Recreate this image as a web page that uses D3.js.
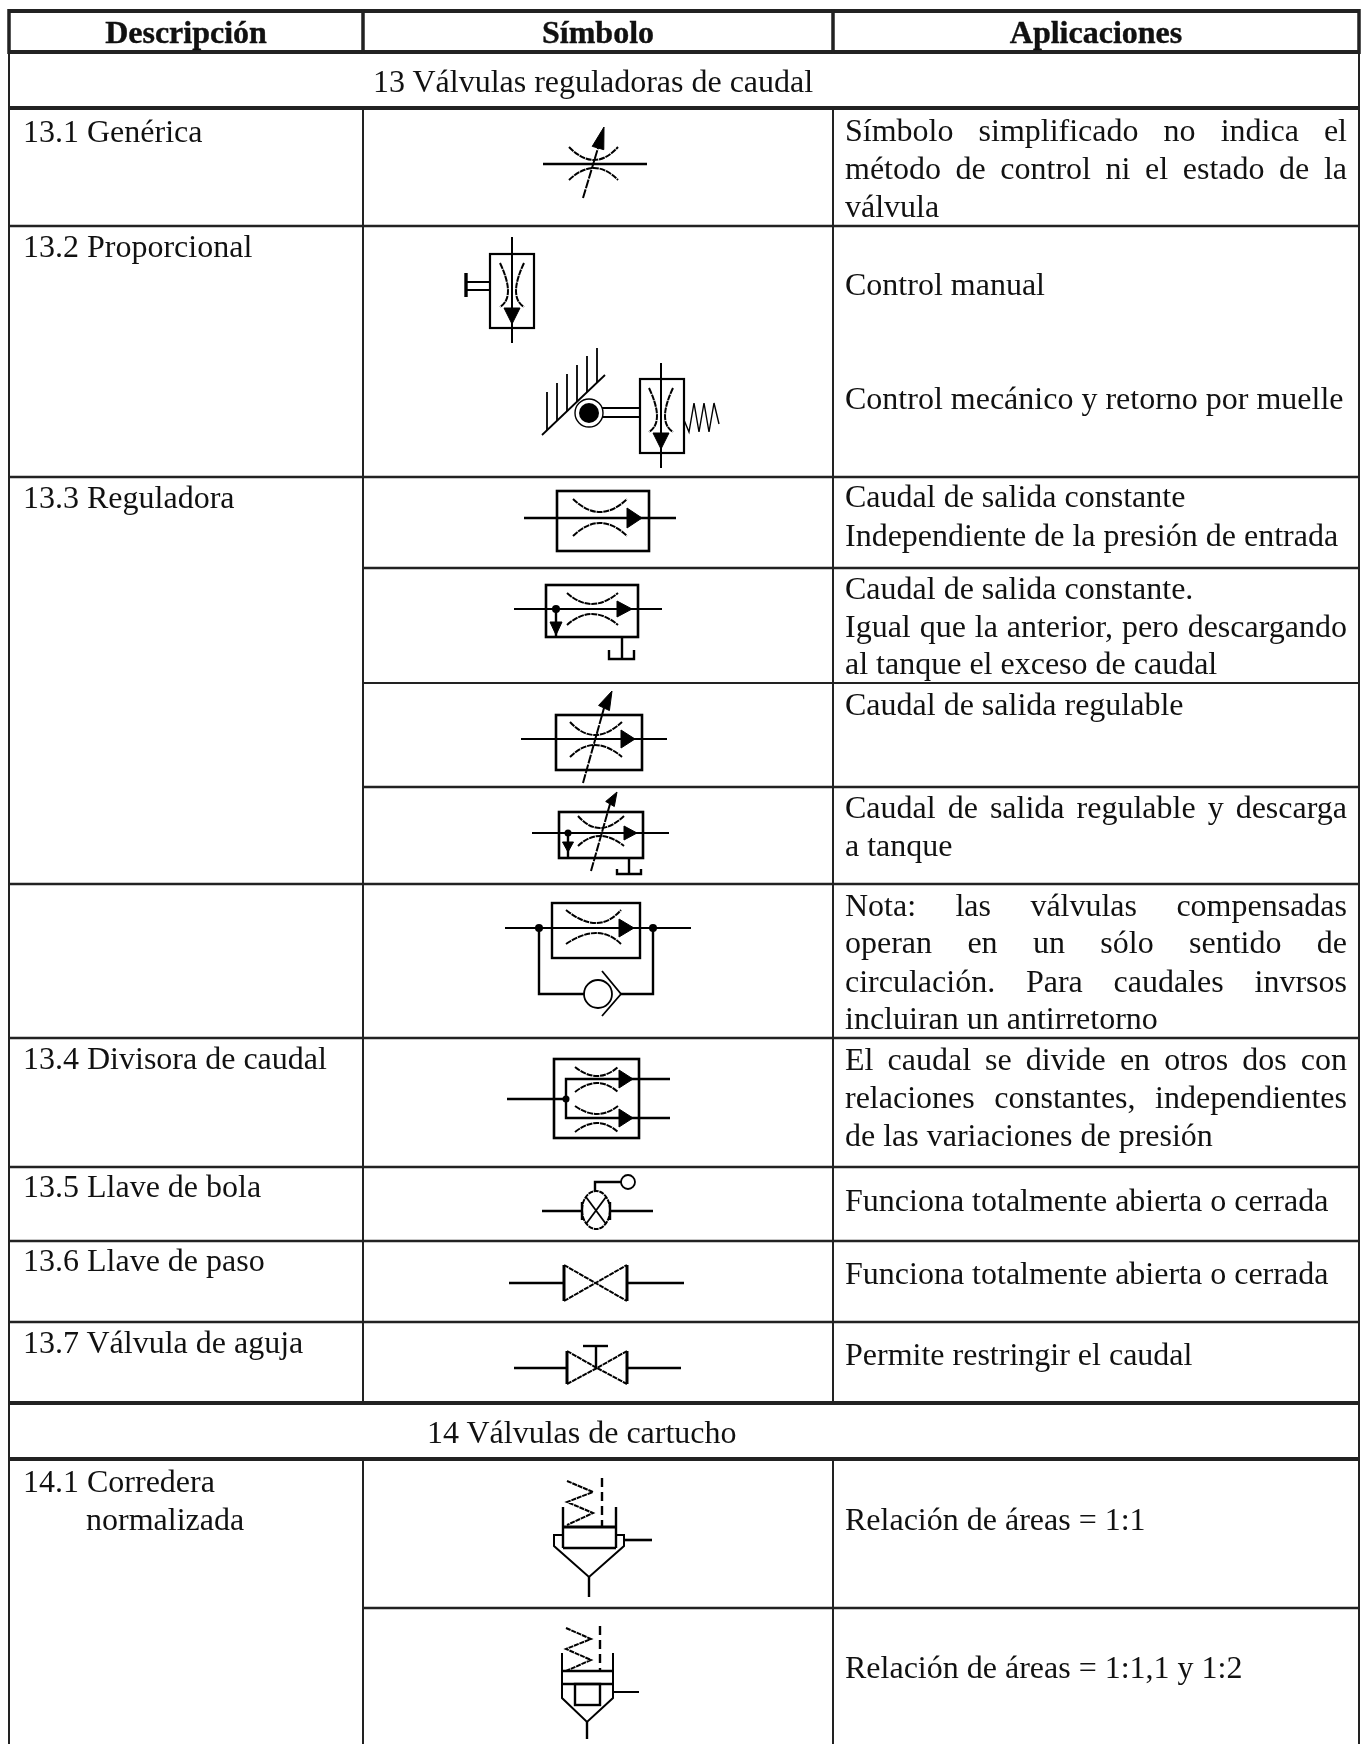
<!DOCTYPE html>
<html>
<head>
<meta charset="utf-8">
<script src="https://cdn.jsdelivr.net/npm/d3@7"></script>
<style>
  html, body { margin: 0; background: #fff; }
  svg { display: block; filter: blur(0.5px); }
  text { font-family: "Liberation Serif", serif; fill: #111; }
</style>
</head>
<body>
<div id="chart"></div>
<script>
// Table content
const headerLabels = ["Descripción", "Símbolo", "Aplicaciones"];
const sectionLabels = ["13 Válvulas reguladoras de caudal", "14 Válvulas de cartucho"];
const descLabels = ["13.1 Genérica", "13.2 Proporcional", "13.3 Reguladora", "13.4 Divisora de caudal",
  "13.5 Llave de bola", "13.6 Llave de paso", "13.7 Válvula de aguja", "14.1 Corredera"];
const descExtra = "normalizada";
const appLines = [
  "Símbolo simplificado no indica el", "método de control ni el estado de la", "válvula",
  "Control manual", "Control mecánico y retorno por muelle",
  "Caudal de salida constante", "Independiente de la presión de entrada",
  "Caudal de salida constante.", "Igual que la anterior, pero descargando", "al tanque el exceso de caudal",
  "Caudal de salida regulable",
  "Caudal de salida regulable y descarga", "a tanque",
  "Nota: las válvulas compensadas", "operan en un sólo sentido de", "circulación. Para caudales invrsos", "incluiran un antirretorno",
  "El caudal se divide en otros dos con", "relaciones constantes, independientes", "de las variaciones de presión",
  "Funciona totalmente abierta o cerrada", "Funciona totalmente abierta o cerrada",
  "Permite restringir el caudal",
  "Relación de áreas = 1:1", "Relación de áreas = 1:1,1 y 1:2"
];
const justifiedLines = new Set([0, 1, 8, 11, 13, 14, 15, 17, 18]);

// Layout read from the page
const width = 1370, height = 1744;
const fontSize = 32;
const colX = [9, 363, 833, 1359];
const descX = 23, appX = 845, appRight = 1347;
const headerBase = 43;
const sectionBase = [92, 1443];
const descBase = [142, 257, 508, 1069, 1197, 1271, 1353, 1492];
const appBase = [141, 179, 217, 295, 409, 507, 546, 599, 637, 674, 715, 818, 856,
  916, 953, 992, 1029, 1070, 1108, 1146, 1211, 1284, 1365, 1530, 1678];
// [y, x start, stroke width]
const rules = [
  [11, 9, 4], [52, 9, 4], [108, 9, 4], [226, 9, 2.5], [477, 9, 2.5], [568, 363, 2.5], [683, 363, 2],
  [787, 363, 2.5], [884, 9, 2.5], [1038, 9, 2.5], [1167, 9, 2.5], [1241, 9, 2.5], [1322, 9, 2.5],
  [1403, 9, 4], [1459, 9, 4], [1608, 363, 2.5]
];
// column lines stop at the section rows
const colSpans = [[108, 1403], [1459, 1744]];

const svg = d3.select("#chart").append("svg")
  .attr("width", width)
  .attr("height", height);

svg.append("rect").attr("width", width).attr("height", height).attr("fill", "#fff");

const grid = svg.append("g").attr("stroke", "#222");

rules.forEach(r => {
  grid.append("line")
    .attr("x1", r[1]).attr("x2", colX[3])
    .attr("y1", r[0]).attr("y2", r[0])
    .attr("stroke-width", r[2]);
});

[colX[0], colX[3]].forEach(x => {
  grid.append("line").attr("x1", x).attr("x2", x).attr("y1", 9).attr("y2", height).attr("stroke-width", 2);
});
colX.forEach(x => {
  grid.append("line").attr("x1", x).attr("x2", x).attr("y1", 9).attr("y2", 54).attr("stroke-width", 3.5);
});
colSpans.forEach(s => {
  [colX[1], colX[2]].forEach(x => {
    grid.append("line").attr("x1", x).attr("x2", x).attr("y1", s[0]).attr("y2", s[1]).attr("stroke-width", 2);
  });
});

// Text
const headerCenters = [186, 598, 1096];
svg.selectAll(".head").data(headerLabels).enter().append("text")
  .attr("class", "head")
  .attr("x", (d, i) => headerCenters[i])
  .attr("y", headerBase)
  .attr("text-anchor", "middle")
  .style("font-size", fontSize + "px")
  .style("font-weight", "bold")
  .style("stroke", "#111")
  .style("stroke-width", 0.4)
  .text(d => d);

const sectionX = [373, 427];
svg.selectAll(".section").data(sectionLabels).enter().append("text")
  .attr("class", "section")
  .attr("x", (d, i) => sectionX[i])
  .attr("y", (d, i) => sectionBase[i])
  .style("font-size", fontSize + "px")
  .text(d => d);

svg.selectAll(".desc").data(descLabels).enter().append("text")
  .attr("class", "desc")
  .attr("x", descX)
  .attr("y", (d, i) => descBase[i])
  .style("font-size", fontSize + "px")
  .text(d => d);

svg.append("text")
  .attr("x", 86)
  .attr("y", 1530)
  .style("font-size", fontSize + "px")
  .text(descExtra);

svg.selectAll(".app").data(appLines).enter().append("text")
  .attr("class", "app")
  .attr("x", appX)
  .attr("y", (d, i) => appBase[i])
  .style("font-size", fontSize + "px")
  .text(d => d)
  .each(function(d, i) {
    if (!justifiedLines.has(i)) return;
    // stretch the gaps so the line reaches the right margin
    const gaps = d.split(" ").length - 1;
    const extra = (appRight - appX - this.getComputedTextLength()) / gaps;
    d3.select(this).attr("word-spacing", extra);
  });

// Symbols, drawn from small hydraulic parts
const sym = svg.append("g")
  .attr("fill", "none")
  .attr("stroke", "#000")
  .attr("stroke-width", 2);

function line(pts, w) {
  return sym.append("path")
    .attr("d", d3.line()(pts))
    .attr("stroke-width", w || 2);
}

function box(x0, y0, x1, y1, w) {
  return sym.append("rect")
    .attr("x", x0).attr("y", y0)
    .attr("width", x1 - x0).attr("height", y1 - y0)
    .attr("stroke-width", w || 2.4);
}

// curved throttle line, passes through the middle point
function curve(x0, y0, mx, my, x1, y1) {
  const p = d3.path();
  p.moveTo(x0, y0);
  p.quadraticCurveTo(2 * mx - (x0 + x1) / 2, 2 * my - (y0 + y1) / 2, x1, y1);
  return sym.append("path").attr("d", p.toString()).attr("stroke-dasharray", "6 0.8");
}

function solid(pts) {
  return sym.append("path")
    .attr("d", d3.line()(pts) + "Z")
    .attr("fill", "#000")
    .attr("stroke", "#000")
    .attr("stroke-width", 1);
}

function dot(x, y, r) {
  return sym.append("circle").attr("cx", x).attr("cy", y).attr("r", r).attr("fill", "#000").attr("stroke", "none");
}

function ring(x, y, r, w) {
  return sym.append("circle").attr("cx", x).attr("cy", y).attr("r", r).attr("fill", "#fff").attr("stroke-width", w || 2);
}

function arrowRight(baseX, tipX, y, half) {
  solid([[baseX, y - half], [tipX, y], [baseX, y + half]]);
}

function arrowDown(x, baseY, tipY, half) {
  solid([[x - half, baseY], [x + half, baseY], [x, tipY]]);
}

function tank(x, y0, y1, x0, x1, yTop) {
  line([[x, y0], [x, y1]], 2.4);
  line([[x0, yTop], [x0, y1], [x1, y1], [x1, yTop]], 2.4);
}

function throttle(x0, x1, mx, topY, topMid, botY, botMid) {
  curve(x0, topY, mx, topMid, x1, topY);
  curve(x0, botY, mx, botMid, x1, botY);
}

// needle arrow for the adjustable valves
function needle(x0, y0, x1, y1, tipX, tipY, half) {
  line([[x0, y0], [x1, y1]], 2).attr("stroke-dasharray", "9 1.2");
  const dx = tipX - x1, dy = tipY - y1, len = Math.hypot(dx, dy);
  const nx = -dy / len * half, ny = dx / len * half;
  solid([[x1 + nx, y1 + ny], [tipX, tipY], [x1 - nx, y1 - ny]]);
}

function bowtie(xl, xr, cx, cy, y0, y1) {
  line([[xl, y0], [xl, y1]], 3);
  line([[xr, y0], [xr, y1]], 3);
  line([[xl, y0], [cx, cy], [xr, y1]], 2).attr("stroke-dasharray", "5 0.8");
  line([[xl, y1], [cx, cy], [xr, y0]], 2).attr("stroke-dasharray", "5 0.8");
}

// 13.1 generic
line([[543, 164], [647, 164]], 2.6);
throttle(569, 618, 594, 147, 160, 180, 168);
needle(583, 198, 598, 148, 604, 127, 6);

// 13.2 manual
box(490, 254, 534, 328, 2.2);
line([[512, 237], [512, 343]]);
curve(500, 263, 508, 291, 500, 307);
curve(524, 263, 516, 291, 524, 307);
arrowDown(512, 308, 324, 8);
line([[465, 282], [490, 282]]);
line([[465, 290], [490, 290]]);
line([[466, 273], [466, 297]], 3.4);

// 13.2 cam + spring
box(640, 379, 684, 453, 2.2);
line([[661, 363], [661, 468]]);
curve(649, 388, 657, 416, 649, 432);
curve(673, 388, 665, 416, 673, 432);
arrowDown(661, 433, 449, 8);
line([[602, 408], [640, 408]]);
line([[602, 417], [640, 417]]);
line([[542, 435], [605, 375]], 1.8);
[[547, 392, 430], [557, 383, 421], [567, 374, 411], [577, 365, 402], [587, 356, 392], [597, 348, 383]]
  .forEach(h => line([[h[0], h[1]], [h[0], h[2]]], 1.8));
ring(589, 413, 14, 1.4);
dot(589, 413, 10);
line([[684, 420], [689, 432], [694, 403], [699, 432], [704, 403], [709, 432], [714, 403], [719, 424]], 1.4);

// 13.3 constant flow
box(557, 491, 649, 551, 2.6);
line([[524, 518], [676, 518]], 2.4);
throttle(573, 627, 600, 499, 512, 536, 523);
arrowRight(627, 642, 518, 10);

// 13.3 with tank relief
box(546, 585, 638, 637, 2.6);
line([[514, 609], [662, 609]], 2.2);
throttle(567, 618, 592, 593, 604, 625, 614);
arrowRight(617, 632, 609, 8);
dot(556, 609, 4);
line([[556, 609], [556, 637]], 2.4);
arrowDown(556, 622, 635, 6);
tank(622, 637, 659, 609, 634, 650);

// 13.3 adjustable
box(556, 715, 642, 770, 2.6);
line([[521, 739], [667, 739]], 2.2);
throttle(570, 622, 595, 722, 735, 757, 745);
arrowRight(621, 635, 739, 9);
needle(583, 783, 604, 708, 612, 691, 6);

// 13.3 adjustable with tank relief
box(559, 812, 643, 858, 2.6);
line([[532, 833], [669, 833]], 2.2);
throttle(578, 624, 600, 816, 828, 846, 836);
arrowRight(624, 637, 833, 7);
dot(568, 833, 3.5);
line([[568, 833], [568, 858]], 2.4);
arrowDown(568, 842, 852, 5.5);
tank(629, 858, 874, 617, 641, 869);
needle(591, 871, 610, 804, 617, 792, 5);

// 13.3 note, with check valve bypass
box(552, 903, 640, 958, 2.4);
line([[505, 928], [691, 928]]);
throttle(566, 621, 596, 910, 923, 944, 933);
arrowRight(619, 634, 928, 9);
dot(539, 928, 4);
dot(653, 928, 4);
line([[539, 928], [539, 994], [585, 994]], 2.4);
line([[621, 994], [653, 994], [653, 928]], 2.4);
ring(598, 994, 14, 1.8);
line([[602, 971], [621, 994], [602, 1016]], 1.8);

// 13.4 divider
box(554, 1059, 639, 1138, 2.6);
line([[507, 1099], [566, 1099]], 2.4);
dot(566, 1099, 3.5);
line([[670, 1079], [566, 1079], [566, 1118], [670, 1118]], 2.4);
throttle(575, 618, 597, 1067, 1076, 1092, 1083);
throttle(575, 618, 597, 1106, 1114, 1132, 1123);
arrowRight(619, 633, 1079, 9);
arrowRight(619, 633, 1118, 9);

// 13.5 ball valve
line([[542, 1211], [582, 1211]], 2.4);
line([[610, 1211], [653, 1211]], 2.4);
sym.append("ellipse").attr("cx", 596).attr("cy", 1210).attr("rx", 14).attr("ry", 19).attr("stroke-dasharray", "5 0.8");
line([[582, 1202], [582, 1220]], 2.4);
line([[610, 1202], [610, 1220]], 2.4);
line([[586, 1197], [606, 1224]], 1.8);
line([[606, 1197], [586, 1224]], 1.8);
line([[595, 1192], [595, 1182], [621, 1182]], 2.4);
ring(628, 1182, 7, 1.8);

// 13.6 gate valve
line([[509, 1283], [564, 1283]], 2.6);
line([[627, 1283], [684, 1283]], 2.6);
bowtie(564, 627, 595.5, 1283, 1265, 1301);

// 13.7 needle valve
line([[514, 1368], [567, 1368]], 2.6);
line([[627, 1368], [681, 1368]], 2.6);
bowtie(567, 627, 597, 1368, 1351, 1384);
line([[596, 1346], [596, 1368]], 2.4);
line([[583, 1346], [608, 1346]], 2.4);

// 14.1 cartridge 1:1
line([[567, 1481], [593, 1492], [567, 1502], [593, 1513], [567, 1525]]).attr("stroke-dasharray", "5 0.8");
line([[602, 1478], [602, 1527]], 2.4).attr("stroke-dasharray", "9 5");
line([[563, 1507], [563, 1548]], 2.4);
line([[616, 1507], [616, 1548]], 2.4);
line([[563, 1527], [616, 1527]], 3.2);
line([[563, 1548], [616, 1548]], 2.4);
line([[563, 1535], [554, 1535], [554, 1546], [589, 1577], [624, 1546], [624, 1535], [616, 1535]]);
line([[624, 1540], [652, 1540]], 2.6);
line([[589, 1577], [589, 1597]], 2.4);

// 14.1 cartridge 1:1,1 and 1:2
line([[566, 1628], [591, 1639], [566, 1649], [591, 1660], [566, 1671]]).attr("stroke-dasharray", "5 0.8");
line([[600, 1626], [600, 1671]], 2.4).attr("stroke-dasharray", "9 5");
line([[562, 1653], [562, 1698], [587, 1722], [613, 1698], [613, 1653]]);
line([[562, 1671], [613, 1671]], 2.6);
line([[562, 1684], [613, 1684]], 2.6);
box(575, 1684, 600, 1705, 2.4);
line([[613, 1692], [639, 1692]]);
line([[587, 1722], [587, 1739]], 2.4);
</script>
</body>
</html>
